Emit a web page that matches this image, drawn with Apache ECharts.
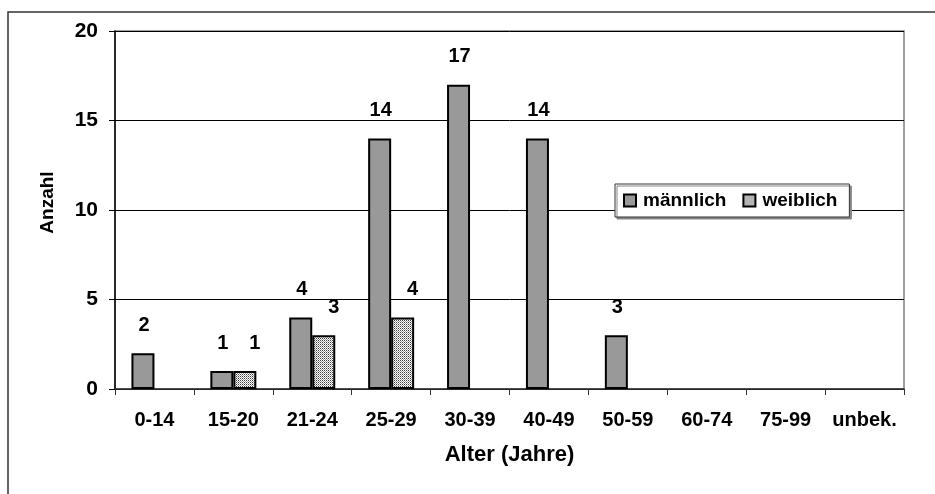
<!DOCTYPE html>
<html>
<head>
<meta charset="utf-8">
<script src="https://cdn.jsdelivr.net/npm/echarts@6/dist/echarts.min.js"></script>
<style>
html,body{margin:0;padding:0;background:#fff;}
#chart{width:935px;height:494px;}
</style>
</head>
<body>
<div id="chart"></div>
<script>
var categories = ['0-14','15-20','21-24','25-29','30-39','40-49','50-59','60-74','75-99','unbek.'];
var maleValues = [2, 1, 4, 14, 17, 14, 3, null, null, null];
var femaleValues = [null, 1, 3, 4, null, null, null, null, null, null];
var seriesNames = ['männlich', 'weiblich'];
var yTicks = [0, 5, 10, 15, 20];

var FONT = 'Liberation Sans, Arial, sans-serif';

// dotted fill pattern for the female bars
var pc = document.createElement('canvas');
pc.width = 2; pc.height = 2;
var pctx = pc.getContext('2d');
pctx.fillStyle = '#ffffff';
pctx.fillRect(0, 0, 2, 2);
pctx.fillStyle = '#3a3a3a';
pctx.fillRect(0, 0, 1, 1);
pctx.fillStyle = '#a0a0a0';
pctx.fillRect(1, 1, 1, 1);

var chart = echarts.init(document.getElementById('chart'));

var labelStyle = {
  show: true,
  position: 'top',
  distance: 18,
  color: '#000',
  fontFamily: FONT,
  fontWeight: 'bold',
  fontSize: 20
};

chart.setOption({
  backgroundColor: '#fff',
  animation: false,
  graphic: [{
    type: 'rect',
    shape: { x: 8, y: 12, width: 1200, height: 800 },
    style: { fill: 'none', stroke: '#333', lineWidth: 1.5 },
    z: 100
  }],
  grid: {
    left: 115, top: 31, right: 31, bottom: 105,
    show: true, borderColor: '#808080', borderWidth: 1.5, backgroundColor: 'transparent'
  },
  legend: {
    data: seriesNames,
    left: 615, top: 184,
    orient: 'horizontal',
    icon: 'rect',
    itemWidth: 12, itemHeight: 12,
    itemGap: 16,
    padding: [7, 12, 7, 8],
    backgroundColor: '#fff',
    borderColor: '#333',
    borderWidth: 1,
    shadowColor: '#888',
    shadowOffsetX: 2,
    shadowOffsetY: 2,
    shadowBlur: 0,
    textStyle: { fontFamily: FONT, fontWeight: 'bold', fontSize: 19, color: '#000', padding: [0, 0, 0, 2] }
  },
  xAxis: {
    type: 'category',
    data: categories,
    name: 'Alter (Jahre)',
    nameLocation: 'middle',
    nameGap: 55,
    nameTextStyle: { fontFamily: FONT, fontWeight: 'bold', fontSize: 22, color: '#000' },
    axisLine: { lineStyle: { color: '#333', width: 1.5 } },
    axisTick: { show: true, length: 6, lineStyle: { color: '#333' } },
    axisLabel: { interval: 0, fontFamily: FONT, fontWeight: 'bold', fontSize: 20, color: '#000', margin: 21 }
  },
  yAxis: {
    type: 'value',
    min: yTicks[0], max: yTicks[yTicks.length - 1], interval: yTicks[1] - yTicks[0],
    name: 'Anzahl',
    nameLocation: 'middle',
    nameGap: 58,
    nameRotate: 90,
    nameTextStyle: { fontFamily: FONT, fontWeight: 'bold', fontSize: 19, color: '#000', padding: [0, 0, 0, 15] },
    axisLine: { show: true, lineStyle: { color: '#000', width: 1.5 } },
    axisTick: { show: true, length: 6, lineStyle: { color: '#000' } },
    axisLabel: { fontFamily: FONT, fontWeight: 'bold', fontSize: 21, color: '#000', margin: 17 },
    splitLine: { show: true, lineStyle: { color: '#000', width: 1 } }
  },
  series: [
    {
      name: seriesNames[0],
      type: 'bar',
      data: maleValues,
      barWidth: 23,
      barGap: '0%',
      itemStyle: { color: '#999999', borderColor: '#000', borderWidth: 2 },
      label: Object.assign({}, labelStyle, { offset: [1, 0] })
    },
    {
      name: seriesNames[1],
      type: 'bar',
      data: femaleValues,
      barWidth: 23,
      barGap: '0%',
      itemStyle: { color: { image: pc, repeat: 'repeat' }, borderColor: '#000', borderWidth: 2 },
      label: Object.assign({}, labelStyle, { offset: [10, 0] })
    }
  ]
});
</script>
</body>
</html>
